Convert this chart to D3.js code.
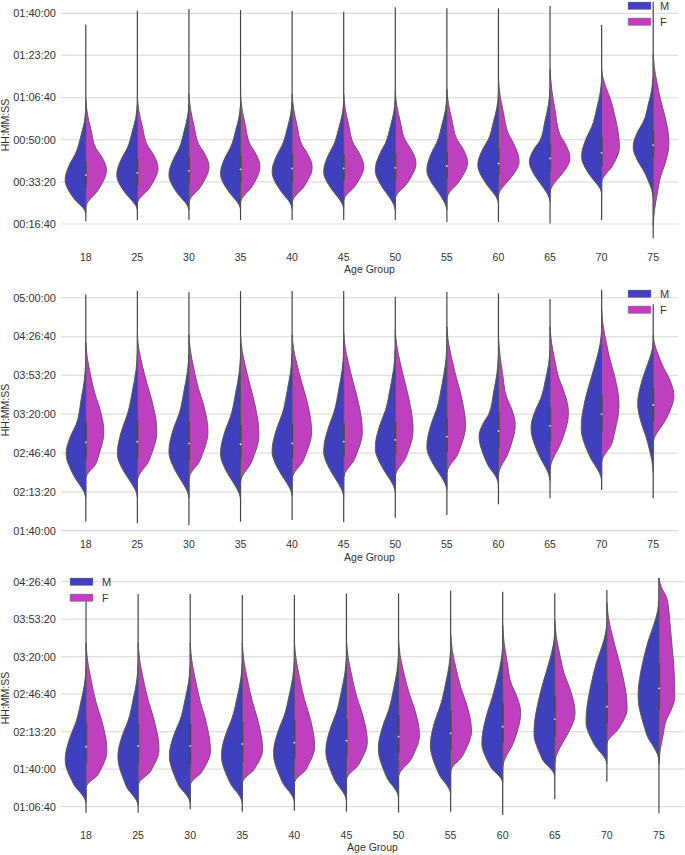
<!DOCTYPE html>
<html><head><meta charset="utf-8">
<script src="https://cdn.jsdelivr.net/npm/d3@7"></script>
<style>body{margin:0;background:#fff}svg{display:block;font-family:"Liberation Sans",Arial,sans-serif}</style>
</head><body><svg id="c" width="685" height="855"></svg>
<script>
// ---------------- DATA (times in minutes) ----------------
const ages = ["18","25","30","35","40","45","50","55","60","65","70","75"];
const sexes = ["M","F"];
// y-axis tick values (seconds)
const ticks1 = [1000,2000,3000,4000,5000,6000];
const ticks2 = [6000,8000,10000,12000,14000,16000,18000];
const ticks3 = [4000,6000,8000,10000,12000,14000,16000];

// half-violin outlines: [bottom tip, lower half-width point, widest point, upper half-width point, top tip, relative width]
const p1Male = [
 [21,26,34,44.5,62,1.0],[22.2,28,36,46.5,64,1.0],[22.2,28,36,46.5,64,0.97],[22.5,28.5,36.5,47,64,0.97],
 [22.8,29,37.3,47.8,65,0.97],[22.8,29.3,37.3,48,65,0.97],[22.2,29.5,38,48.5,66,0.97],[22.2,30,38,49,67,0.97],
 [24.9,31.5,40,50,68,1.0],[25.5,33,41.3,49.5,70,1.0],[28.8,35,43.3,55,74,0.97],[27,38,47.2,57,75,0.97]];
const p1Female = [
 [23.5,29,38,46.5,66,1.0],[24.9,30,38.8,47.5,67,1.0],[25.4,30.5,39.3,48,68,0.97],[25.4,30.5,39.3,48,68,0.94],
 [25.4,30.5,39,47.8,68,0.97],[26.1,31,39.3,48.2,68,0.97],[26.8,32,40.6,49.5,69,1.0],[27,32.5,41,50,70,1.0],
 [28.1,34,41.3,52,74,1.0],[29.4,35.5,42.6,52,78,0.96],[33.4,38.5,47,66,78,0.86],[16,36,48.6,65,84,0.76]];
// inner box: [min, q1, median, q3, max]
const p1Box = [
 [17.8,30.9,36,41.2,95.6],[18.2,32.1,36.9,42.3,101],[18.2,32.7,37.7,43,101.7],[18.2,33.4,38.3,43.5,101.3],
 [18.2,33.4,38.7,44,100.9],[18.2,34,38.7,44.3,100.6],[18.2,34,38.9,44.6,102.4],[17.5,34.7,39.6,45.2,102],
 [17.5,36,40.6,46.6,102],[16.9,37.3,42.6,48.6,102.9],[18.2,39.3,44.8,51.2,95.4],[11,43.3,47.9,53.8,104.6]];

const p2Male = [
 [128,144,166,191,245,0.95],[129,146,166,200,252,0.97],[128,146,168,200,252,0.97],[127,145,166,198,250,0.97],
 [130,147,168,200,252,0.97],[129,147,168,201,254,0.97],[133,150,171,203,255,0.97],[135,152,172,205,258,0.97],
 [140,155,181,200,250,0.94],[143,162,188,213,255,0.92],[143,161,188,232,272,0.99],[150,182,209,238,262,0.75]];
const p2Female = [
 [145,156,185,218,262,0.87],[143.6,157,185,226,268,0.94],[145,158,185,222,268,0.92],[142,156,182,226,268,0.89],
 [145,158,185,227,268,0.94],[146,159,185,228,270,0.9],[147,160,186,230,272,0.86],[150,163,190,232,275,0.9],
 [148,164,191,214,268,0.81],[153,172,201,230,275,0.89],[159,172,208,246,290,0.84],[176,192,216,240,268,1.0]];
const p2Box = [
 [107.7,160.6,175.9,194.2,302.9],[106.3,162.1,176.4,195,305.7],[104.9,160.6,175,194.2,304.6],[107.7,162.1,174.2,190.7,305.7],
 [109.2,162.1,175,191.3,305.7],[107.2,163.5,176.4,192.2,305.7],[111.2,165,177.9,193.6,300.9],[113.5,167.8,180.7,196.5,305],
 [122.6,170.7,185.6,202.1,303.8],[127.8,176.4,190,206.4,298.9],[135,185,200,216.5,306.6],[127.8,193.6,207.9,222.2,294.3]];

const p3Male = [
 [70,84,108,141,190,1.0],[68,82,111,143,192,0.97],[70,84,112,143,192,1.0],[70,85,112,145,194,1.0],
 [71,86,114,147,196,1.0],[72,88,116,150,200,0.99],[75,90,118,152,202,0.97],[78,93,121,157,207,0.97],
 [88,100,123,164,210,1.0],[94,106,132,181,222,1.0],[105,119,142,195,230,1.0],[108,127,165,215,250,1.0]];
const p3Female = [
 [84,93.5,116,158,212,1.0],[86,96,117,160,212,1.0],[86,96,116,160,212,0.97],[88,98,117,160,212,0.97],
 [88,98,120,162,214,0.97],[91,102,124,164,215,1.0],[94,106,130,168,215,1.0],[98,110,134,172,220,1.0],
 [102,120,150,175,228,0.86],[106,127,150,183,232,0.97],[123,134,154,203,248,0.97],[105,145,165,252,270,0.76]];
const p3Box = [
 [61.4,105.2,120,140.8,255.7],[61.4,105.2,120.6,140,255.7],[64.4,105.2,120.6,140,255.7],[62.2,106.7,122.4,142.2,254.9],
 [63.1,109.6,123.6,143.7,254.9],[62.2,111.1,125.3,145.2,256.3],[61.4,114.1,128.9,148.2,256.3],[62.2,117.1,131.9,152.6,258.7],
 [59.3,123,137.8,158.6,257.8],[73.3,128.9,144.6,165,256.3],[88.9,140.8,155.6,176.3,259.3],[60.8,152.6,171.9,194.1,269.7]];

// generic kernel-density outline shape (fraction of width) between the key points
const shapeLow  = [[0,0],[0.3,0.08],[0.6,0.24],[1,0.5]];
const shapeRise = [[0,0.5],[0.32,0.73],[0.58,0.88],[0.79,0.97],[1,1]];
const shapeFall = [[0,1],[0.21,0.97],[0.42,0.88],[0.68,0.73],[1,0.5]];
const shapeTail = [[0,0.5],[0.4,0.24],[0.7,0.08],[1,0]];

// ---------------- DRAWING ----------------
const svg = d3.select("#c");
const colors = {M:"#4040bf", F:"#bf40bf"};
const textCol = "#333";
const fmt = s => { const h=Math.floor(s/3600), m=Math.floor((s%3600)/60), ss=Math.round(s%60);
  return [h,m,ss].map(v=>String(v).padStart(2,"0")).join(":"); };

function outline(p){
  const [lo,hL,md,hU,hi,w] = p; const pts=[];
  const seg=(a,b,shape,first)=>shape.forEach(([u,f],i)=>{ if(i>0||first) pts.push([a+(b-a)*u, f*w]); });
  seg(lo,hL,shapeLow,true); seg(hL,md,shapeRise,false); seg(md,hU,shapeFall,false); seg(hU,hi,shapeTail,false);
  return pts;
}

const panels = [
 {male:p1Male, female:p1Female, box:p1Box, ticks:ticks1, xr:[60,679], yDom:[1000,6000], yRng:[224,13.3], xLabY:261, titleY:273, ylabY:125, leg:[628,2]},
 {male:p2Male, female:p2Female, box:p2Box, ticks:ticks2, xr:[60,679], yDom:[6000,18000], yRng:[530.7,297.7], xLabY:548, titleY:561, ylabY:410, leg:[628,290]},
 {male:p3Male, female:p3Female, box:p3Box, ticks:ticks3, xr:[60,685], yDom:[4000,16000], yRng:[806.7,581.7], xLabY:839, titleY:851, ylabY:698, leg:[70,578]}
];

panels.forEach(P=>{
  const g = svg.append("g");
  const x = d3.scaleBand().domain(ages).range(P.xr);
  const y = d3.scaleLinear().domain(P.yDom).range(P.yRng);
  const wScale = d3.scaleLinear().domain([0,1]).range([0, x.bandwidth()*0.4]);
  const ym = m => y(m*60);

  // grid
  g.selectAll("line.grid").data(P.ticks).join("line")
    .attr("x1",P.xr[0]+1).attr("x2",P.xr[1]-1).attr("y1",d=>y(d)).attr("y2",d=>y(d))
    .attr("stroke","#dedede").attr("stroke-width",1.2);
  // y tick labels
  g.selectAll("text.yt").data(P.ticks).join("text")
    .attr("x",56).attr("y",d=>y(d)).attr("dy","0.35em").attr("text-anchor","end")
    .attr("font-size",11).attr("fill",textCol).text(fmt);
  // x tick labels
  g.selectAll("text.xt").data(ages).join("text")
    .attr("x",d=>x(d)+x.bandwidth()/2).attr("y",P.xLabY).attr("text-anchor","middle")
    .attr("font-size",10.5).attr("fill",textCol).text(d=>d);
  g.append("text").attr("x",(P.xr[0]+P.xr[1])/2).attr("y",P.titleY).attr("text-anchor","middle")
    .attr("font-size",10.5).attr("fill",textCol).text("Age Group");
  g.append("text").attr("transform",`translate(9,${P.ylabY}) rotate(-90)`).attr("text-anchor","middle")
    .attr("font-size",10.5).attr("fill",textCol).text("HH:MM:SS");

  ages.forEach((a,i)=>{
    const cx = x(a)+x.bandwidth()/2;
    const b = P.box[i];
    // tails (violin support line)
    g.append("line").attr("x1",cx).attr("x2",cx).attr("y1",ym(b[0])).attr("y2",ym(b[4]))
      .attr("stroke","#444").attr("stroke-width",1.2);
    [["M",P.male[i],-1],["F",P.female[i],1]].forEach(([s,p,dir])=>{
      const area = d3.area().curve(d3.curveMonotoneY)
        .y(d=>ym(d[0])).x0(cx).x1(d=>cx+dir*wScale(d[1]));
      g.append("path").attr("d",area(outline(p))).attr("fill",colors[s])
        .attr("stroke","#555").attr("stroke-width",0.9).attr("stroke-linejoin","round");
    });
    // inner box
    g.append("line").attr("x1",cx).attr("x2",cx).attr("y1",ym(b[1])).attr("y2",ym(b[3]))
      .attr("stroke","#4a4a4a").attr("stroke-width",2.2).attr("stroke-opacity",0.85);
    g.append("circle").attr("cx",cx).attr("cy",ym(b[2])).attr("r",0.9).attr("fill","#e8e8e8");
  });

  // legend
  const lg = g.append("g").attr("transform",`translate(${P.leg[0]},${P.leg[1]})`);
  sexes.forEach((s,k)=>{
    lg.append("rect").attr("x",0).attr("y",k*16).attr("width",23).attr("height",7.5)
      .attr("fill",colors[s]).attr("stroke","#888").attr("stroke-width",0.4);
    lg.append("text").attr("x",32).attr("y",k*16+3.8).attr("dy","0.35em")
      .attr("font-size",11).attr("fill",textCol).text(s);
  });
});
</script></body></html>
